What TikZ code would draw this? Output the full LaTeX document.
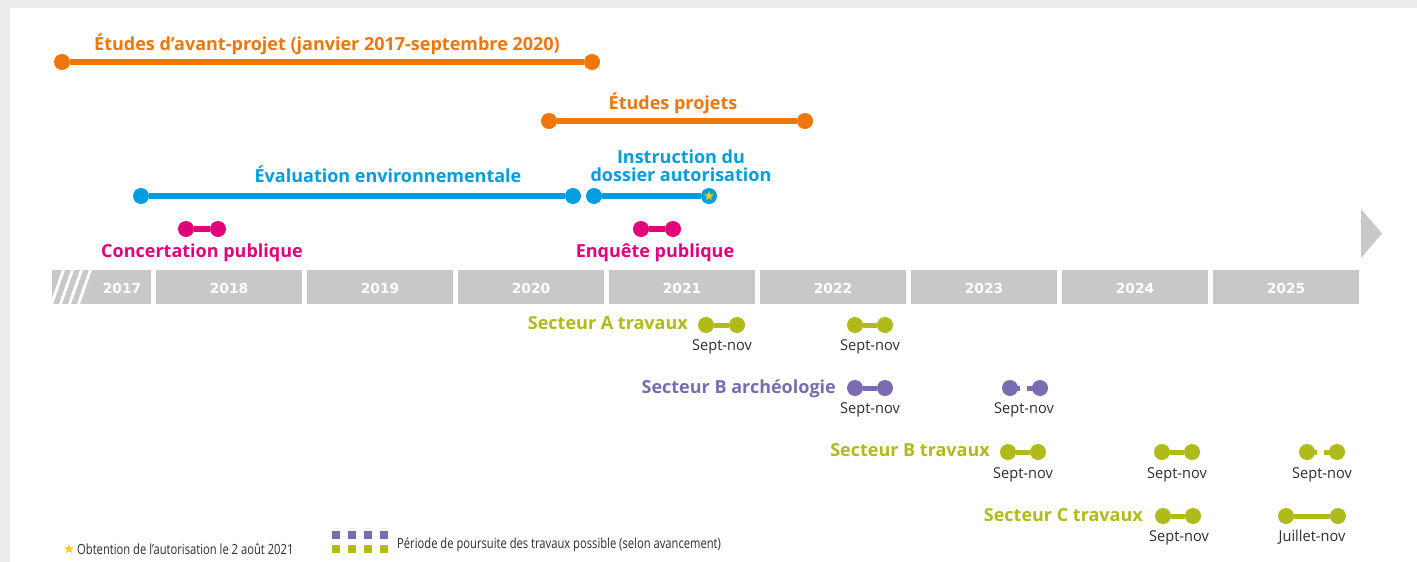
\documentclass[tikz,border=0pt]{standalone}
\usepackage{fontspec}
\setmainfont{Open Sans}
\newfontfamily\yrfont{DejaVu Sans}
\newfontfamily\condfont[FakeStretch=0.97]{Open Sans}
\newfontfamily\legfont[FakeStretch=0.8]{Open Sans}
\usetikzlibrary{shapes.geometric,calc}
\definecolor{bgg}{RGB}{236,236,236}
\definecolor{cOrange}{RGB}{239,118,10}
\definecolor{cBlue}{RGB}{0,158,224}
\definecolor{cMag}{RGB}{227,0,122}
\definecolor{cOlive}{RGB}{176,186,26}
\definecolor{cPurple}{RGB}{123,107,176}
\definecolor{cBar}{RGB}{200,200,198}
\definecolor{cStar}{RGB}{255,204,0}
\definecolor{cText}{RGB}{45,45,45}
\begin{document}
\begin{tikzpicture}[x=1pt,y=-1pt,
  dot/.style={circle,fill=#1,draw=none,inner sep=0pt,minimum size=16pt},
  sdot/.style={circle,fill=#1,draw=none,inner sep=0pt,minimum size=16pt},
  bar/.style={line width=6pt,draw=#1},
  sbar/.style={line width=5pt,draw=#1},
  lab/.style={text=#1,font=\fontsize{18}{18}\selectfont\bfseries,anchor=base,inner sep=0pt},
  sub/.style={font=\condfont\fontsize{15}{17}\selectfont,text=cText,anchor=base,inner sep=0pt},
  leg/.style={font=\legfont\fontsize{14}{16}\selectfont,text=cText,anchor=base west,inner sep=0pt},
  yearbox/.style={fill=cBar,draw=none,inner sep=0pt,anchor=north west,minimum height=34pt},
  year/.style={text=white,font=\yrfont\bfseries\fontsize{13.8}{15}\selectfont,anchor=base,inner sep=0pt},
  starmark/.style={star,star points=5,star point ratio=2.4,fill=cStar,draw=none,inner sep=0pt,minimum size=#1}
]
\fill[bgg] (0,0) rectangle (1417,562);
\fill[white] (10,8) rectangle (1417,562);
\useasboundingbox (0,0) rectangle (1417,562);

% ---- Etudes d'avant-projet
\node[dot=cOrange] (o1) at (62,62) {};
\node[dot=cOrange] (o2) at (592,62) {};
\draw[bar=cOrange] (o1) -- (o2);
\node[lab=cOrange] (t1) at (327,50) {Études d’avant-projet (janvier 2017-septembre 2020)};

% ---- Etudes projets
\node[dot=cOrange] (o3) at (549,121) {};
\node[dot=cOrange] (o4) at (805,121) {};
\draw[bar=cOrange] (o3) -- (o4);
\node[lab=cOrange] (t2) at (673,109) {Études projets};

% ---- Evaluation environnementale
\node[dot=cBlue] (b1) at (141,196) {};
\node[dot=cBlue] (b2) at (573,196) {};
\draw[bar=cBlue] (b1) -- (b2);
\node[lab=cBlue] (t3) at (388,182) {Évaluation environnementale};

% ---- Instruction du dossier
\node[dot=cBlue] (b3) at (594,196) {};
\node[dot=cBlue] (b4) at (709,196) {};
\draw[bar=cBlue] (b3) -- (b4);
\node[starmark=10pt] (st1) at (b4) {};
\node[lab=cBlue,align=center] (t4) at (681,181) {Instruction du\\dossier autorisation};

% ---- Concertation / Enquete
\node[dot=cMag] (m1) at (186,229) {};
\node[dot=cMag] (m2) at (218,229) {};
\draw[bar=cMag] (m1) -- (m2);
\node[lab=cMag] (t5) at (202,257) {Concertation publique};
\node[dot=cMag] (m3) at (641,229) {};
\node[dot=cMag] (m4) at (673,229) {};
\draw[bar=cMag] (m3) -- (m4);
\node[lab=cMag] (t6) at (655,257) {Enquête publique};

% ---- Year bar
\node[yearbox,minimum width=99pt] (y2017) at (52,270) {};
\begin{scope}
  \clip (52,270) rectangle (151,304);
  \foreach \k in {0,1,2,3}{
    \fill[white] ({50+9*\k},304) -- ({53+9*\k},304) -- ({65+9*\k},270) -- ({62+9*\k},270) -- cycle;
  }
\end{scope}
\node[year] (yl2017) at (122,293) {2017};
\foreach \yr [count=\i] in {2018,...,2025}{
  \node[yearbox,minimum width=146pt] (y\yr) at ({156+151*(\i-1)},270) {};
  \node[year] (yl\yr) at ({229+151*(\i-1)},293) {\yr};
}
\fill[cBar] (1361,209) -- (1382,233.5) -- (1361,258) -- cycle;

% ---- Secteur A travaux
\node[lab=cOlive,anchor=base east] (sA) at (688,329) {Secteur A travaux};
\node[sdot=cOlive] (a1) at (706,325) {};
\node[sdot=cOlive] (a2) at (737,325) {};
\draw[sbar=cOlive] (a1) -- (a2);
\node[sub] (sa1) at (722,350) {Sept-nov};
\node[sdot=cOlive] (a3) at (855,325) {};
\node[sdot=cOlive] (a4) at (885,325) {};
\draw[sbar=cOlive] (a3) -- (a4);
\node[sub] (sa2) at (870,350) {Sept-nov};

% ---- Secteur B archeologie
\node[lab=cPurple,anchor=base east] (sBa) at (836,393) {Secteur B archéologie};
\node[sdot=cPurple] (p1) at (855,388) {};
\node[sdot=cPurple] (p2) at (885,388) {};
\draw[sbar=cPurple] (p1) -- (p2);
\node[sub] (sp1) at (870,413) {Sept-nov};
\node[sdot=cPurple] (p3) at (1010,388) {};
\node[sdot=cPurple] (p4) at (1040,388) {};
\draw[sbar=cPurple] (p3.center) -- ($(p3)!0.34!(p4)$);
\draw[sbar=cPurple] ($(p3)!0.57!(p4)$) -- (p4.center);
\node[sub] (sp2) at (1024,413) {Sept-nov};

% ---- Secteur B travaux
\node[lab=cOlive,anchor=base east] (sBt) at (990,456) {Secteur B travaux};
\node[sdot=cOlive] (c1) at (1008,452) {};
\node[sdot=cOlive] (c2) at (1038,452) {};
\draw[sbar=cOlive] (c1) -- (c2);
\node[sub] (sc1) at (1023,478) {Sept-nov};
\node[sdot=cOlive] (c3) at (1162,452) {};
\node[sdot=cOlive] (c4) at (1192,452) {};
\draw[sbar=cOlive] (c3) -- (c4);
\node[sub] (sc2) at (1177,478) {Sept-nov};
\node[sdot=cOlive] (c5) at (1307,452) {};
\node[sdot=cOlive] (c6) at (1337,452) {};
\draw[sbar=cOlive] (c5.center) -- ($(c5)!0.34!(c6)$);
\draw[sbar=cOlive] ($(c5)!0.57!(c6)$) -- (c6.center);
\node[sub] (sc3) at (1322,478) {Sept-nov};

% ---- Secteur C travaux
\node[lab=cOlive,anchor=base east] (sCt) at (1143,521) {Secteur C travaux};
\node[sdot=cOlive] (d1) at (1163,516) {};
\node[sdot=cOlive] (d2) at (1193,516) {};
\draw[sbar=cOlive] (d1) -- (d2);
\node[sub] (sd1) at (1179,541) {Sept-nov};
\node[sdot=cOlive] (d3) at (1286,516) {};
\node[sdot=cOlive] (d4) at (1338,516) {};
\draw[sbar=cOlive] (d3) -- (d4);
\node[sub] (sd2) at (1312,541) {Juillet-nov};

% ---- Legend
\node[starmark=10pt] (ls) at (69,549) {};
\node[leg] (lt1) at (77,554) {Obtention de l’autorisation le 2 août 2021};
\foreach \k in {0,1,2,3}{
  \fill[cPurple] ({332+16*\k},531) rectangle ++(8,8);
  \fill[cOlive] ({332+16*\k},545) rectangle ++(8,8);
}
\node[leg] (lt2) at (397,548) {Période de poursuite des travaux possible (selon avancement)};
\end{tikzpicture}
\end{document}
